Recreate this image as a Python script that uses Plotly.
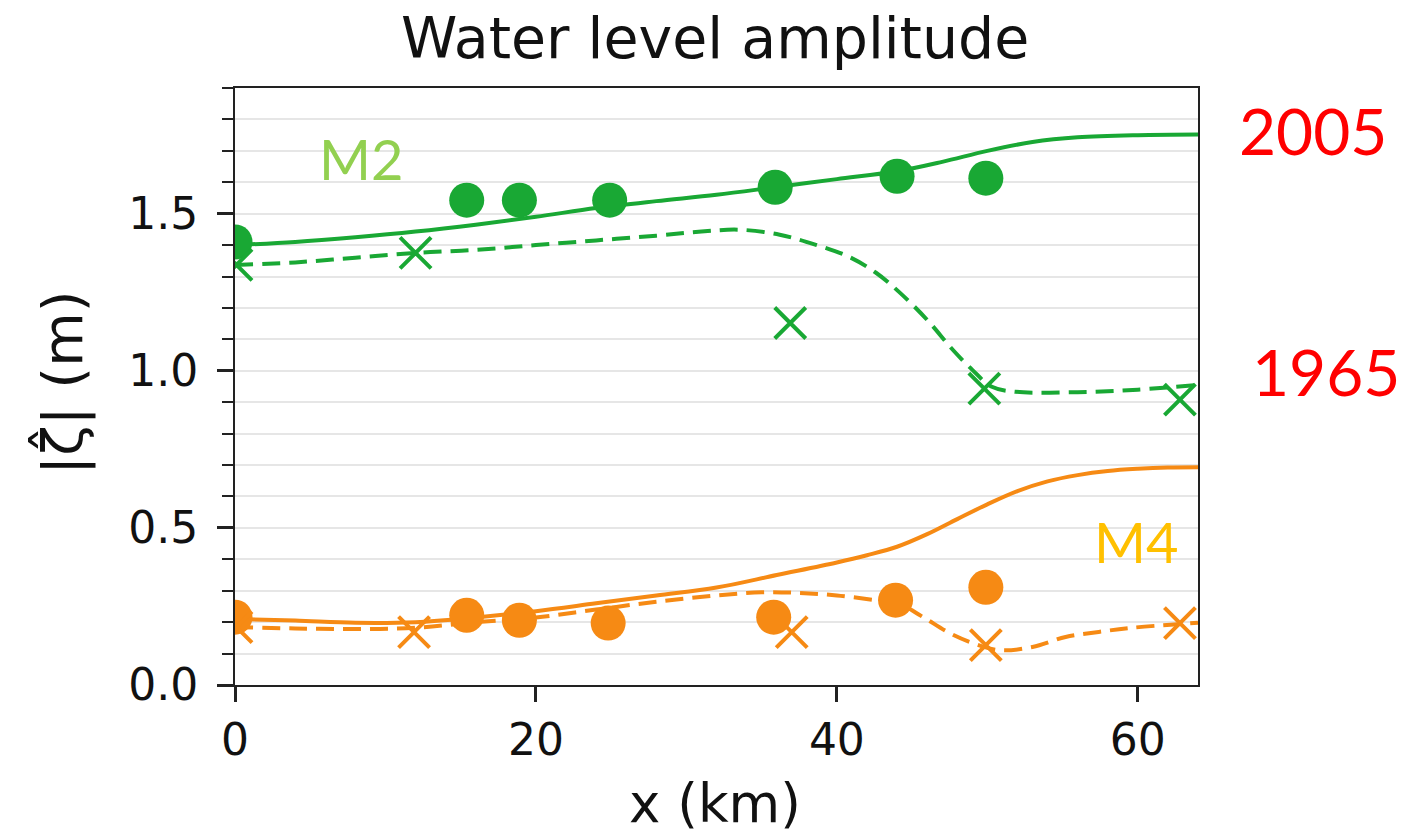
import plotly.graph_objects as go

# ---- data ----
# observations (2005 = circles, 1965 = crosses)
m2_2005_obs_x = [0.0, 15.4, 18.9, 24.9, 35.9, 44.0, 49.9]
m2_2005_obs_y = [1.41, 1.543, 1.543, 1.543, 1.584, 1.619, 1.613]
m2_1965_obs_x = [0.1, 12.0, 36.9, 49.8, 62.8]
m2_1965_obs_y = [1.337, 1.375, 1.152, 0.943, 0.908]
m4_2005_obs_x = [0.0, 15.4, 18.9, 24.8, 35.8, 43.9, 49.9]
m4_2005_obs_y = [0.216, 0.222, 0.206, 0.197, 0.216, 0.270, 0.311]
m4_1965_obs_x = [0.1, 11.9, 37.0, 49.9, 62.8]
m4_1965_obs_y = [0.184, 0.168, 0.168, 0.127, 0.197]

# model curves
m2_2005_mod_x = [0, 4, 8, 12, 16, 20, 24, 28, 32, 36, 40, 44, 47, 50, 53, 56, 60, 64]
m2_2005_mod_y = [1.40, 1.41, 1.425, 1.443, 1.465, 1.49, 1.518, 1.54, 1.56, 1.585, 1.61, 1.635,
                 1.665, 1.70, 1.728, 1.743, 1.75, 1.752]
m2_1965_mod_x = [0, 4, 8, 12, 16, 20, 24, 28, 31, 33.5, 36.2, 38.6, 40.8, 42.6, 44.2, 46, 47.7,
                 49, 50.3, 51.9, 56, 60, 64]
m2_1965_mod_y = [1.337, 1.345, 1.36, 1.375, 1.385, 1.40, 1.415, 1.43, 1.443, 1.449, 1.433, 1.401,
                 1.363, 1.312, 1.248, 1.162, 1.067, 1.003, 0.949, 0.933, 0.932, 0.94, 0.955]
m4_2005_mod_x = [0, 4, 8, 12, 16, 20, 24, 28, 32, 36, 40, 42, 44, 46, 48, 50, 52, 54, 56, 58, 60, 62, 64]
m4_2005_mod_y = [0.21, 0.205, 0.198, 0.20, 0.215, 0.235, 0.26, 0.285, 0.31, 0.35, 0.39, 0.413,
                 0.44, 0.48, 0.528, 0.575, 0.617, 0.648, 0.668, 0.681, 0.688, 0.692, 0.693]
m4_1965_mod_x = [0, 4, 8, 12, 16, 20, 24, 28, 32, 35, 37.5, 40, 42.6, 44, 45.7, 47.5, 49, 50.8,
                 53, 55.2, 57.4, 59.6, 64]
m4_1965_mod_y = [0.184, 0.18, 0.178, 0.182, 0.20, 0.215, 0.24, 0.265, 0.285, 0.295, 0.293, 0.285,
                 0.27, 0.262, 0.217, 0.165, 0.134, 0.111, 0.121, 0.153, 0.169, 0.182, 0.198]

x_ticks = [0, 20, 40, 60]
y_ticks = [0.0, 0.5, 1.0, 1.5]
y_ticktext = ["0.0", "0.5", "1.0", "1.5"]

GREEN = "#19a834"
ORANGE = "#f68a14"

fig = go.Figure()

def line(x, y, color, dash):
    fig.add_trace(go.Scatter(x=x, y=y, mode="lines",
                             line=dict(color=color, width=4, dash=dash, shape="spline", smoothing=1.0),
                             showlegend=False, hoverinfo="skip"))

def circles(x, y, color):
    fig.add_trace(go.Scatter(x=x, y=y, mode="markers",
                             marker=dict(symbol="circle", size=35, color=color, line=dict(width=0)),
                             showlegend=False))

def crosses(x, y, color):
    fig.add_trace(go.Scatter(x=x, y=y, mode="markers",
                             marker=dict(symbol="x-thin", size=31, color=color,
                                         line=dict(width=4, color=color)),
                             showlegend=False))

line(m2_2005_mod_x, m2_2005_mod_y, GREEN, "solid")
line(m2_1965_mod_x, m2_1965_mod_y, GREEN, "18px,9px")
line(m4_2005_mod_x, m4_2005_mod_y, ORANGE, "solid")
line(m4_1965_mod_x, m4_1965_mod_y, ORANGE, "18px,9px")
circles(m2_2005_obs_x, m2_2005_obs_y, GREEN)
crosses(m2_1965_obs_x, m2_1965_obs_y, GREEN)
circles(m4_2005_obs_x, m4_2005_obs_y, ORANGE)
crosses(m4_1965_obs_x, m4_1965_obs_y, ORANGE)

font = "DejaVu Sans"
fig.update_layout(
    width=1404, height=839,
    margin=dict(l=235, r=206, t=88, b=154),
    paper_bgcolor="white", plot_bgcolor="white",
    font=dict(family=font, color="black"),
    showlegend=False,
)
fig.update_xaxes(range=[0, 64], tickvals=x_ticks, ticks="outside", ticklen=15, tickwidth=2.5,
                 tickcolor="#222", showgrid=False, zeroline=False,
                 showline=True, linecolor="#222", linewidth=2, mirror=True,
                 tickfont=dict(size=44, family=font, color="#111"))
fig.update_yaxes(range=[0, 1.9], tickvals=y_ticks, ticktext=y_ticktext,
                 ticks="outside", ticklen=16, tickwidth=2.5, tickcolor="#222",
                 ticklabelstandoff=10,
                 showgrid=True, gridcolor="#e6e6e6", gridwidth=2, zeroline=False,
                 showline=True, linecolor="#222", linewidth=2, mirror=True,
                 tickfont=dict(size=44, family=font, color="#111"),
                 minor=dict(dtick=0.1, tick0=0, ticks="outside", ticklen=11, tickwidth=2,
                            tickcolor="#222", showgrid=True, gridcolor="#e6e6e6", gridwidth=2))

anns = [
    dict(text="Water level amplitude", x=0.4985, y=1.083, size=57, color="#111", fam=font),
    dict(text="x (km)", x=0.4985, y=-0.198, size=53, color="#111", fam=font),
    dict(text="2005", x=1.1194, y=0.9296, size=64, color="#ff0000", fam="Lato"),
    dict(text="1965", x=1.1329, y=0.5243, size=64, color="#ff0000", fam="Lato"),
    dict(text="M2", x=0.1308, y=0.8827, size=56, color="#92d050", fam="Lato"),
    dict(text="M4", x=0.9356, y=0.2412, size=56, color="#ffc000", fam="Lato"),
]
for a in anns:
    fig.add_annotation(text=a["text"], x=a["x"], y=a["y"], xref="paper", yref="paper",
                       xanchor="center", yanchor="middle", showarrow=False,
                       font=dict(size=a["size"], color=a["color"], family=a["fam"]))

fig.add_annotation(text="|\u03b6\u0302| (m)", x=-0.18, y=0.5059, xref="paper", yref="paper",
                   xanchor="center", yanchor="middle", showarrow=False, textangle=-90,
                   font=dict(size=56, color="#111", family=font))

fig.write_html("out.html")
